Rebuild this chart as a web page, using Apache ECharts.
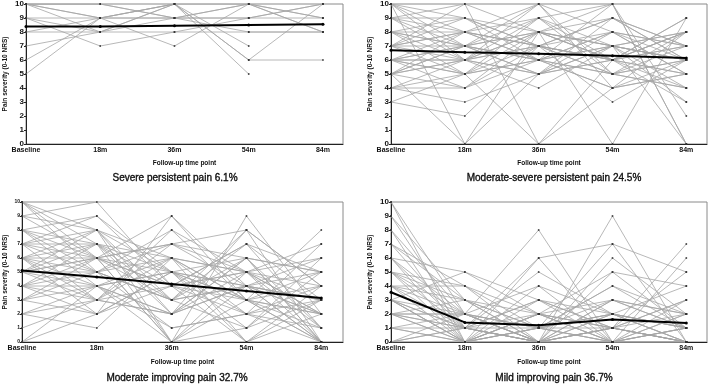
<!DOCTYPE html>
<html><head><meta charset="utf-8">
<script src="https://cdn.jsdelivr.net/npm/echarts@6/dist/echarts.min.js"></script>
<style>html,body{margin:0;padding:0;background:#fff}#c{width:709px;height:385px}</style>
</head><body><div id="c"></div>
<script>
const timeLabels = ['Baseline','18m','36m','54m','84m'];
const panelTitles = ['Severe persistent pain 6.1%','Moderate-severe persistent pain 24.5%','Moderate improving pain 32.7%','Mild improving pain 36.7%'];
const yTicks = [0,1,2,3,4,5,6,7,8,9,10];

const meanSevere = [8.4, 8.4, 8.45, 8.5, 8.55];
const meanModSevere = [6.7, 6.55, 6.45, 6.3, 6.15];
const meanModImproving = [5.1, 4.65, 4.15, 3.65, 3.15];
const meanMild = [3.55, 1.4, 1.2, 1.6, 1.35];

const trajSevere = [
[10,10,9,10,8],[10,9,10,6,10],[10,8,10,5,null],[9,7,8,9,9],[9,9,9,8,8],[8,8,8,8,8],
[7,8,9,10,9],[6,9,10,6,6],[5,9,10,7,null],[10,10,9,9,10],[10,9,7,10,8],[9,8,10,10,9],[8,9,9,9,10]
];
const trajModSevere = [
[10,9,8,7,6],[10,6,10,5,8],[10,0,5,7,6],[9,8,7,8,7],[9,7,6,5,4],[9,10,0,6,8],[8,7,8,6,5],
[8,5,9,10,0],[8,9,7,9,7],[8,6,5,6,9],[8,8,6,7,3],[7,6,7,5,6],[7,8,10,4,5],[7,7,6,7,8],
[7,5,8,6,4],[7,9,6,8,6],[7,10,8,0,9],[6,7,5,8,7],[6,6,8,7,6],[6,4,7,6,5],[6,8,6,10,2],
[6,5,7,6,8],[6,7,9,5,7],[6,6,4,7,6],[5,7,6,8,5],[5,6,8,9,7],[5,8,7,3,6],[5,4,6,5,4],
[5,0,8,7,8],[5,7,5,6,3],[4,5,6,4,5],[4,6,7,6,7],[4,3,5,9,6],[4,4,8,10,0],[3,2,7,6,8],
[3,5,0,4,6],[10,8,9,6,7],[9,6,5,7,0],[8,7,10,8,5],[7,8,7,9,6],[6,5,6,4,8],[5,6,9,7,4],
[9,9,7,5,6],[10,7,8,6,9]
];
const trajModImproving = [
[10,8,5,4,3],[10,6,9,3,2],[10,5,3,8,0],[10,7,0,5,4],[9,8,6,2,1],[9,10,4,0,3],[9,6,7,5,2],
[8,7,2,6,5],[8,5,6,3,0],[8,9,4,7,3],[8,4,5,1,6],[7,8,3,4,5],[7,6,0,9,2],[7,5,8,3,4],
[7,3,6,5,1],[7,7,4,2,7],[6,5,7,4,3],[6,8,2,6,0],[6,4,5,0,4],[6,6,3,7,5],[6,2,9,4,2],
[6,7,6,5,6],[5,6,4,3,1],[5,3,7,8,4],[5,5,1,2,3],[5,7,5,6,0],[5,4,2,5,7],[5,8,0,4,2],
[4,5,3,1,3],[4,3,8,5,0],[4,6,5,3,5],[4,2,4,7,1],[4,4,6,0,2],[3,4,2,4,6],[3,6,0,3,0],
[3,2,5,2,4],[3,5,3,6,1],[2,3,4,5,3],[2,1,6,3,2],[2,4,0,1,5],[1,3,2,4,0],[0,2,5,3,8],
[0,4,1,2,0],[7,9,5,4,3],[8,6,4,5,2],[6,3,2,8,4],[5,6,7,6,5],[4,7,3,4,0]
];
const trajMild = [
[10,2,1,0,1],[10,0,3,1,0],[9,1,0,2,1],[9,3,0,0,2],[8,2,1,1,0],[8,0,2,3,1],[7,1,0,0,0],
[7,4,2,1,3],[6,0,1,4,2],[6,2,0,1,0],[6,5,3,2,1],[6,1,0,9,0],[5,3,2,0,1],[5,0,1,2,4],
[5,2,8,0,0],[5,1,0,3,2],[4,4,1,0,0],[4,0,2,5,1],[4,2,0,1,3],[4,1,3,0,0],[4,3,0,2,1],
[3,0,1,7,0],[3,2,0,1,5],[3,1,2,0,1],[3,0,0,3,2],[3,5,2,1,0],[3,1,6,0,0],[2,0,1,2,1],
[2,2,0,0,3],[2,1,3,1,0],[2,0,0,6,2],[2,3,1,0,1],[2,1,5,2,0],[1,0,2,1,7],[1,2,0,0,0],
[1,1,1,4,1],[1,0,4,2,0],[0,1,0,1,2],[0,0,2,0,6],[0,2,1,3,1],[0,1,0,5,4],[5,4,0,1,0],
[7,3,1,2,0],[3,0,6,7,5],[2,2,4,0,2]
];

const panels = [
  {traj: trajSevere, mean: meanSevere, grid:{left:26, top:3, width:317, height:141}, xmax:4.27, yFont:8, titleX:175, titleY:173, nameY:159.5},
  {traj: trajModSevere, mean: meanModSevere, grid:{left:391, top:4, width:316, height:140}, xmax:4.28, yFont:8, titleX:554, titleY:173, nameY:159.5},
  {traj: trajModImproving, mean: meanModImproving, grid:{left:22, top:202, width:321, height:140}, xmax:4.29, yFont:5, titleX:177, titleY:373, nameY:358.5},
  {traj: trajMild, mean: meanMild, grid:{left:391, top:202, width:316, height:140}, xmax:4.28, yFont:8, titleX:554, titleY:373, nameY:358.5}
];

const FF = 'Liberation Sans, Arial, sans-serif';
const grids = [], xAxes = [], yAxes = [], series = [], titles = [];
panels.forEach((p, i) => {
  grids.push(Object.assign({show:true, borderColor:'#8a8a8a', borderWidth:1}, p.grid));
  xAxes.push({type:'value', gridIndex:i, min:0, max:p.xmax, interval:1,
    axisLine:{show:true, onZero:false, lineStyle:{color:'#222', width:1}},
    axisTick:{show:false}, splitLine:{show:false},
    axisLabel:{fontFamily:FF, fontSize:7, fontWeight:'bold', color:'#111', margin:3, showMaxLabel:false,
      formatter: v => { const r = Math.round(v); return Math.abs(v - r) < 1e-6 && timeLabels[r] ? timeLabels[r] : ''; }}
  });
  yAxes.push({type:'value', gridIndex:i, min:yTicks[0], max:yTicks[yTicks.length-1], interval:1,
    name:'Pain severity (0-10 NRS)', nameLocation:'middle', nameGap: p.yFont === 5 ? 13 : 17,
    nameTextStyle:{fontFamily:FF, fontSize:6.5, fontWeight:'bold', color:'#111'},
    axisLine:{show:true, lineStyle:{color:'#222', width:1}},
    axisTick:{show:true, length:2, lineStyle:{color:'#222'}}, splitLine:{show:false},
    axisLabel:{fontFamily:FF, fontSize:p.yFont, fontWeight:'bold', color:'#111', margin:2}
  });
  p.traj.forEach(t => {
    const d = [];
    t.forEach((v, j) => { if (v !== null) d.push([j, v]); });
    series.push({type:'line', xAxisIndex:i, yAxisIndex:i, data:d, silent:true, animation:false,
      symbol:'rect', symbolSize:1.6, itemStyle:{color:'#333'},
      lineStyle:{color:'#a6a6a6', width:0.8}, z:2});
  });
  series.push({type:'line', xAxisIndex:i, yAxisIndex:i, data:p.mean.map((v,j)=>[j,v]), silent:true, animation:false,
    symbol:'circle', symbolSize:3, itemStyle:{color:'#000'}, lineStyle:{color:'#000', width:2}, z:5});
  const gx = p.grid.left + p.grid.width / 2;
  titles.push({text:'Follow-up time point', left:gx, top:p.nameY, textAlign:'center', padding:0,
    textStyle:{fontFamily:FF, fontSize:6.5, fontWeight:'bold', color:'#111'}});
  titles.push({text:panelTitles[i], left:p.titleX, top:p.titleY, textAlign:'center', padding:0,
    textStyle:{fontFamily:FF, fontSize:10, fontWeight:'normal', color:'#111', textBorderColor:'#111', textBorderWidth:0.35}});
});

const chart = echarts.init(document.getElementById('c'), null, {renderer:'canvas'});
chart.setOption({animation:false, backgroundColor:'#fff', title:titles, grid:grids, xAxis:xAxes, yAxis:yAxes, series:series});
</script></body></html>
